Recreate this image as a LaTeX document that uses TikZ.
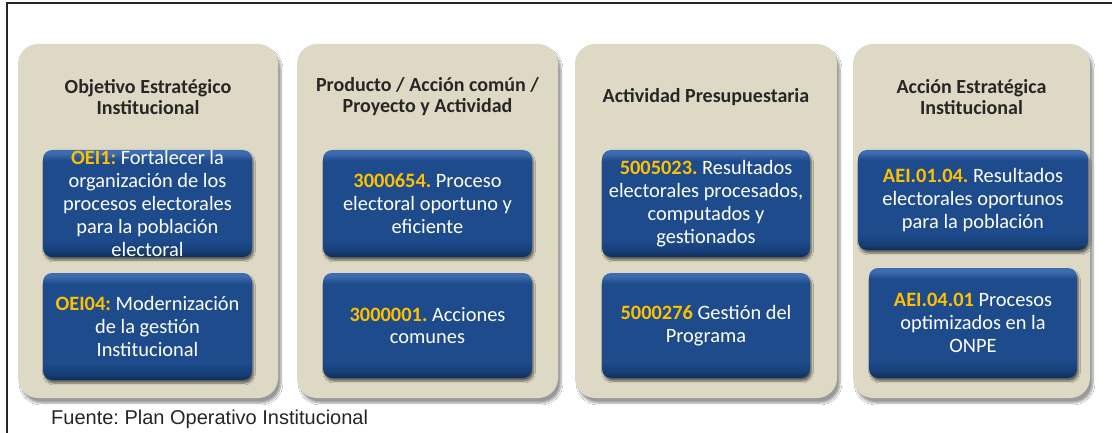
\documentclass[tikz,border=0pt]{standalone}
\usepackage{fontspec}
\setmainfont{Carlito}
\newfontfamily\arialf{Liberation Sans}
\usetikzlibrary{shadows.blur}
\frenchspacing
\definecolor{panelc}{HTML}{DDD9C4}
\definecolor{titlec}{HTML}{262626}
\definecolor{boxhi}{HTML}{3D6DB0}
\definecolor{boxmid}{HTML}{1D4B8B}
\definecolor{boxdark}{HTML}{173F78}
\definecolor{boxbot}{HTML}{0F2E5A}
\definecolor{codey}{HTML}{FFC000}
\pgfdeclareverticalshading{boxshade}{100bp}{color(0bp)=(boxbot); color(25bp)=(boxbot); color(28bp)=(boxdark); color(33bp)=(boxmid); color(70bp)=(boxmid); color(73.5bp)=(boxhi); color(75bp)=(boxhi); color(100bp)=(boxhi)}
\newcommand{\code}[1]{\textcolor{codey}{\textbf{#1}}}
\begin{document}
\begin{tikzpicture}[x=1pt,y=-1pt,
  panel/.style={draw=none, fill=panelc, rounded corners=20pt, inner sep=0pt,
    blur shadow={shadow xshift=3pt, shadow yshift=-5pt, shadow blur steps=8, shadow opacity=40}},
  ptitle/.style={text=titlec, align=center, inner sep=0pt,
    font=\frenchspacing\bfseries\fontsize{20}{21}\selectfont},
  bluebox/.style={rounded corners=9pt, inner sep=0pt, text=white, align=center,
    shading=boxshade,
    font=\frenchspacing\fontsize{20.4}{22.8}\selectfont,
    blur shadow={shadow xshift=1.5pt, shadow yshift=-3pt, shadow blur steps=6, shadow opacity=55}}]
\useasboundingbox (0,0) rectangle (1112,433);
\fill[white] (0,0) rectangle (1112,433);
% frame
\draw[line width=2pt, black!85] (1112,3) -- (7,3) -- (7,433);
% panels
\node[panel, minimum width=260pt, minimum height=354pt] (p1) at (148,221) {};
\node[panel, minimum width=261pt, minimum height=354pt] (p2) at (427.5,221) {};
\node[panel, minimum width=262pt, minimum height=354pt] (p3) at (706,221) {};
\node[panel, minimum width=237pt, minimum height=354pt] (p4) at (971.5,221) {};
% titles
\node[ptitle] (t1) at (148,97) {Objetivo Estratégico\\Institucional};
\node[ptitle] (t2) at (427.5,97) {Producto / Acción común /\\Proyecto y Actividad};
\node[ptitle] (t3) at (706,97) {Actividad Presupuestaria};
\node[ptitle] (t4) at (971.5,97) {Acción Estratégica\\Institucional};
% boxes
\node[bluebox, minimum width=209pt, minimum height=107pt] (b11) at (147.5,203.5)
  {\code{OEI1:} Fortalecer la\\organización de los\\procesos electorales\\para la población\\electoral};
\node[bluebox, minimum width=209pt, minimum height=107pt] (b12) at (147.5,326.5)
  {\code{OEI04:} Modernización\\de la gestión\\Institucional};
\node[bluebox, minimum width=209pt, minimum height=107pt] (b21) at (427.5,203.5)
  {\code{3000654.} Proceso\\electoral oportuno y\\eficiente};
\node[bluebox, minimum width=209pt, minimum height=105pt] (b22) at (427.5,325.5)
  {\code{3000001.} Acciones\\comunes};
\node[bluebox, minimum width=208pt, minimum height=107pt] (b31) at (706,203.5)
  {\code{5005023.} Resultados\\electorales procesados,\\computados y\\gestionados};
\node[bluebox, minimum width=208pt, minimum height=105pt] (b32) at (706,325.5)
  {\code{5000276} Gestión del\\Programa};
\node[bluebox, minimum width=230pt, minimum height=100pt] (b41) at (973,200)
  {\code{AEI.01.04.} Resultados\\electorales oportunos\\para la población};
\node[bluebox, minimum width=208pt, minimum height=110pt] (b42) at (973,323)
  {\code{AEI.04.01} Procesos\\optimizados en la\\ONPE};
% source
\node[anchor=west, inner sep=0pt, text=black!85, font=\frenchspacing\arialf\fontsize{20}{22}\selectfont] (src) at (51,419) {Fuente: Plan Operativo Institucional};
\end{tikzpicture}
\end{document}
